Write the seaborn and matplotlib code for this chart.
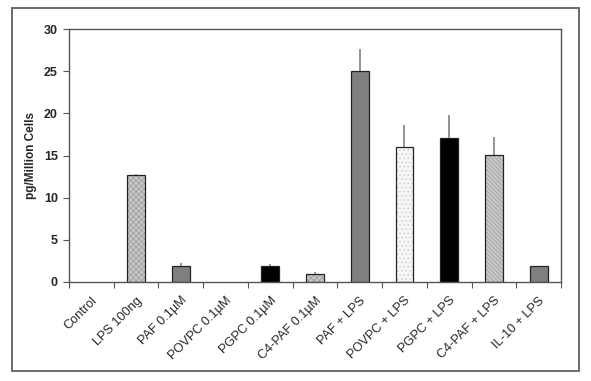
import numpy as np
import pandas as pd
import matplotlib
matplotlib.use("Agg")
import matplotlib.pyplot as plt
import matplotlib.colors as mcolors
from matplotlib.patches import Rectangle
import seaborn as sns

categories = ["Control", "LPS 100ng", "PAF 0.1\u00b5M", "POVPC 0.1\u00b5M", "PGPC 0.1\u00b5M",
              "C4-PAF 0.1\u00b5M", "PAF + LPS", "POVPC + LPS", "PGPC + LPS",
              "C4-PAF + LPS", "IL-10 + LPS"]
values = [0.0, 12.7, 1.95, 0.0, 1.95, 0.9, 25.0, 16.0, 17.1, 15.05, 1.95]
errors = [0.0, 0.1, 0.3, 0.0, 0.2, 0.25, 2.6, 2.6, 2.7, 2.2, 0.0]
y_ticks = [0, 5, 10, 15, 20, 25, 30]

face_colors = ["#ffffff", "#c8c8c8", "#7f7f7f", "#ffffff", "#000000", "#c8c8c8",
               "#7f7f7f", "#f6f6f6", "#000000", "#c8c8c8", "#7f7f7f"]
hatches = ["", "xxxxxx", "", "", "", "xxxxxx", "", "....", "", "\\\\\\\\\\\\\\\\", ""]
hatch_colors = ["#888888", "#9a9a9a", "#707070", "#888888", "#000000", "#9a9a9a",
                "#707070", "#c8c8c8", "#000000", "#9a9a9a", "#707070"]

sns.set_theme(style="white")
plt.rcParams["font.family"] = ["Liberation Sans", "DejaVu Sans"]
plt.rcParams["hatch.linewidth"] = 0.5

df = pd.DataFrame({"cat": categories, "val": values})

fig = plt.figure(figsize=(5.91, 3.81), dpi=100)
ax = fig.add_axes([69 / 591, 1 - 282 / 381, (561 - 69) / 591, (282 - 29) / 381])

sns.barplot(data=df, x="cat", y="val", hue="cat", palette=face_colors, legend=False,
            width=0.4, errorbar=None, edgecolor="#222222", linewidth=0.9, ax=ax)

for p, h, hc, v in zip(ax.patches, hatches, hatch_colors, values):
    if h:
        p.set_hatch(h)
        p._hatch_color = mcolors.to_rgba(hc)
    if v == 0:
        p.set_linewidth(0)

x = np.arange(len(categories))
err = np.array(errors)
mask = err > 0
ax.errorbar(x[mask], np.array(values)[mask], yerr=[np.zeros(mask.sum()), err[mask]],
            fmt="none", ecolor="#808080", elinewidth=1.2, capsize=0, zorder=1)

ax.set_ylim(0, 30)
ax.set_xlim(-0.5, len(categories) - 0.5)
ax.set_yticks(y_ticks)
ax.set_yticklabels([str(t) for t in y_ticks], fontsize=9, fontweight="bold")

ax.set_xticks(np.arange(len(categories) + 1) - 0.5)
ax.set_xticklabels([])
ax.set_xticks(x, minor=True)
ax.set_xticklabels(categories, minor=True, rotation=45, ha="right",
                   rotation_mode="anchor", fontsize=9.2)
ax.tick_params(axis="x", which="major", direction="out", length=4, width=0.8,
               color="#555555", bottom=True)
ax.tick_params(axis="x", which="minor", length=0, pad=9)
ax.tick_params(axis="y", which="major", direction="out", length=4, width=0.8,
               color="#555555", left=True, pad=4)

ax.set_xlabel("")
ax.set_ylabel("pg/Million Cells", fontsize=8.5, fontweight="bold", labelpad=5)

for s in ax.spines.values():
    s.set_visible(True)
    s.set_color("#555555")
    s.set_linewidth(1.0)
ax.grid(False)

fig.add_artist(Rectangle((12 / 591, 1 - 371 / 381), (579 - 12) / 591, (371 - 8) / 381,
                         transform=fig.transFigure, fill=False,
                         edgecolor="#6a6a6a", linewidth=1.4))

fig.savefig("out.png", dpi=100)
